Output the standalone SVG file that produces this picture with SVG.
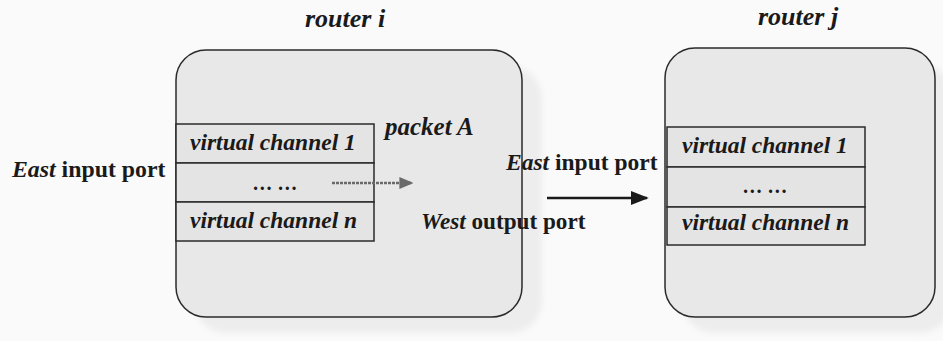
<svg xmlns="http://www.w3.org/2000/svg" width="943" height="341" viewBox="0 0 943 341">
  <defs>
    <filter id="soft" x="-10%" y="-10%" width="120%" height="120%">
      <feGaussianBlur stdDeviation="3"/>
    </filter>
    <marker id="headGray" viewBox="0 0 10 10" refX="9" refY="5" markerWidth="14" markerHeight="12" orient="auto" markerUnits="userSpaceOnUse" preserveAspectRatio="none">
      <path d="M0,0 L10,5 L0,10 Z" fill="#6a6a6a"/>
    </marker>
    <marker id="headBlack" viewBox="0 0 10 10" refX="9" refY="5" markerWidth="18" markerHeight="14" orient="auto" markerUnits="userSpaceOnUse" preserveAspectRatio="none">
      <path d="M0,0 L10,5 L0,10 Z" fill="#1a1a1a"/>
    </marker>
  </defs>

  <rect x="0" y="0" width="943" height="341" fill="#fafafa"/>

  <!-- router i -->
  <g id="router-i">
    <rect x="194" y="66" width="348" height="267" rx="32" fill="#ededed" filter="url(#soft)"/>
    <rect x="176" y="50" width="346" height="267" rx="30" fill="#e8e8e8" stroke="#2a2a2a" stroke-width="1.5"/>
    <text x="305" y="27" font-family="Liberation Serif" font-weight="bold" font-style="italic" font-size="26" fill="#1a1a1a">router i</text>
    <g id="vc-table-i" fill="#e4e4e4" stroke="#2a2a2a" stroke-width="1.5">
      <rect x="176" y="124" width="198" height="39"/>
      <rect x="176" y="163" width="198" height="39"/>
      <rect x="176" y="202" width="198" height="39"/>
    </g>
    <text x="190" y="150" font-family="Liberation Serif" font-weight="bold" font-style="italic" font-size="23.5" fill="#1a1a1a">virtual channel 1</text>
    <text x="253" y="190" font-family="Liberation Serif" font-weight="bold" font-style="italic" font-size="20" fill="#1a1a1a">… …</text>
    <text x="190" y="228" font-family="Liberation Serif" font-weight="bold" font-style="italic" font-size="23.5" fill="#1a1a1a">virtual channel n</text>
    <text x="385" y="135" font-family="Liberation Serif" font-weight="bold" font-style="italic" font-size="25" fill="#1a1a1a">packet A</text>
    <text x="421" y="229" font-family="Liberation Serif" font-weight="bold" font-size="23.2" fill="#1a1a1a"><tspan font-style="italic">West</tspan> output port</text>
  </g>

  <!-- router j -->
  <g id="router-j">
    <rect x="682" y="64" width="270" height="269" rx="32" fill="#ededed" filter="url(#soft)"/>
    <rect x="665" y="48" width="270" height="269" rx="30" fill="#e8e8e8" stroke="#2a2a2a" stroke-width="1.5"/>
    <text x="758" y="25" font-family="Liberation Serif" font-weight="bold" font-style="italic" font-size="26" fill="#1a1a1a">router j</text>
    <g id="vc-table-j" fill="#e4e4e4" stroke="#2a2a2a" stroke-width="1.5">
      <rect x="667" y="127" width="198" height="40"/>
      <rect x="667" y="167" width="198" height="40"/>
      <rect x="667" y="207" width="198" height="38"/>
    </g>
    <text x="682" y="153" font-family="Liberation Serif" font-weight="bold" font-style="italic" font-size="23.5" fill="#1a1a1a">virtual channel 1</text>
    <text x="743" y="193" font-family="Liberation Serif" font-weight="bold" font-style="italic" font-size="20" fill="#1a1a1a">… …</text>
    <text x="682" y="230" font-family="Liberation Serif" font-weight="bold" font-style="italic" font-size="23.5" fill="#1a1a1a">virtual channel n</text>
  </g>

  <!-- port labels -->
  <g id="east-input-i">
    <text x="12" y="177" font-family="Liberation Serif" font-weight="bold" font-size="23.8" fill="#1a1a1a"><tspan font-style="italic">East</tspan> input port</text>
  </g>
  <g id="east-input-j">
    <text x="506" y="170" font-family="Liberation Serif" font-weight="bold" font-size="23.5" fill="#1a1a1a"><tspan font-style="italic">East</tspan> input port</text>
  </g>

  <!-- connectors -->
  <g id="connectors">
    <line x1="332" y1="183" x2="412" y2="183" stroke="#6a6a6a" stroke-width="2.5" stroke-dasharray="3 1" marker-end="url(#headGray)"/>
    <line x1="547" y1="198" x2="647" y2="198" stroke="#1a1a1a" stroke-width="2.5" marker-end="url(#headBlack)"/>
  </g>
</svg>
